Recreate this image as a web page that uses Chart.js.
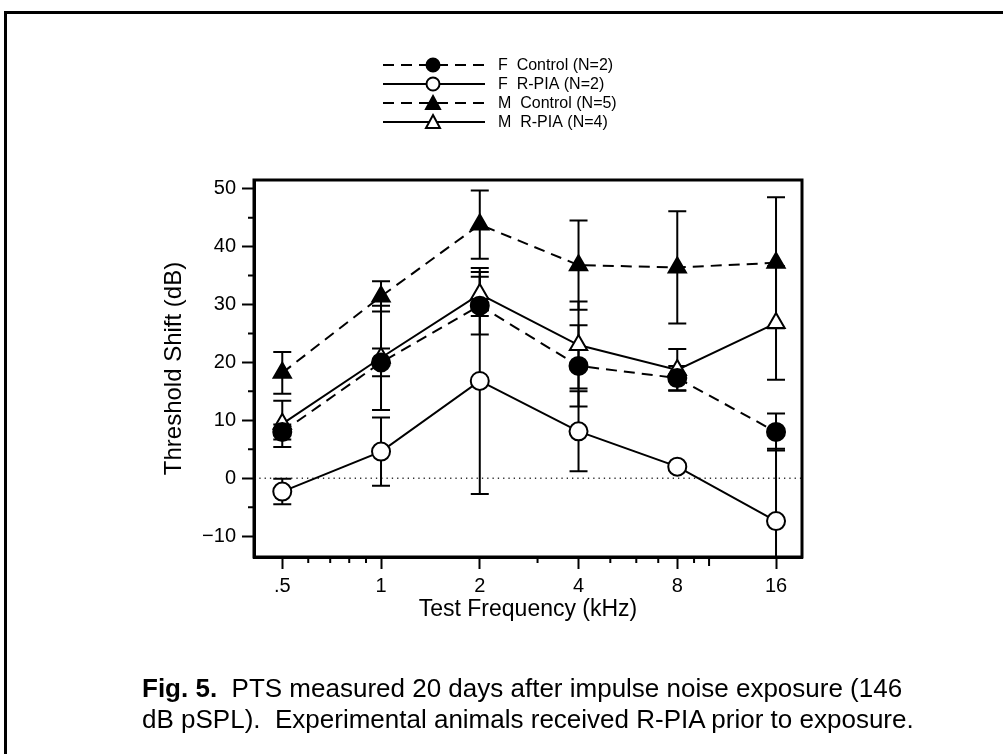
<!DOCTYPE html>
<html lang="en">
<head>
    <meta charset="UTF-8">
    <title>Fig. 5 - PTS after impulse noise</title>
    <script src="https://cdn.jsdelivr.net/npm/chart.js"></script>
    <style>
        html, body { margin: 0; padding: 0; background: #fff; }
        body { width: 1003px; height: 754px; position: relative; overflow: hidden; }
        .frame { position: absolute; left: 4px; top: 11px; right: -20px; bottom: -20px; border: 3px solid #000; }
        .chart-box { position: absolute; left: 0; top: 0; width: 1003px; height: 754px; }
        .caption { position: absolute; left: 142px; top: 673px; font-family: "Liberation Sans", Arial, sans-serif;
                   font-size: 26px; line-height: 31px; color: #000; white-space: nowrap; }
    </style>
</head>
<body>

<div class="frame"></div>

<!-- Grafica -->
<div class="chart-box">
    <canvas id="ptsChart" width="1003" height="754"></canvas>
</div>

<div class="caption"><b>Fig. 5.</b>&nbsp; PTS measured 20 days after impulse noise exposure (146<br>dB pSPL).&nbsp; Experimental animals received R-PIA prior to exposure.</div>

<script>
    // datos
    var freqs = [0.5, 1, 2, 4, 8, 16];
    var freqLabels = ['.5', '1', '2', '4', '8', '16'];

    var fControl = [8.0, 20.0, 29.8, 19.4, 17.3, 8.0];
    var fControlErr = [1.3, 2.4, 5.0, 7.0, 2.1, 3.2];
    var fRpia = [-2.3, 4.6, 16.8, 8.1, 2.0, -7.4];
    var fRpiaErr = [2.2, 5.9, 19.5, 6.9, 0, 12.5];
    var mControl = [18.2, 31.4, 43.8, 36.8, 36.4, 37.2];
    var mControlErr = [3.6, 2.6, 5.9, 7.7, 9.7, 11.3];
    var mRpia = [9.4, 20.8, 31.8, 23.0, 18.7, 26.8];
    var mRpiaErr = [4.0, 9.0, 3.8, 7.5, 3.6, 9.8];

    var yTicks = [-10, 0, 10, 20, 30, 40, 50];
    var yMinor = [-5, 5, 15, 25, 35, 45];
    var xMinor = [0.6, 0.7, 0.8, 0.9, 3, 5, 6, 7, 9, 10];

    function pts(vals) {
        return vals.map(function (v, i) { return { x: freqs[i], y: v }; });
    }

    function serie(label, vals, errs, dashed, shape, filled) {
        return {
            label: label,
            data: pts(vals),
            errors: errs,
            borderColor: '#000',
            borderWidth: 2,
            borderDash: dashed ? [11, 7] : [],
            pointStyle: shape,
            pointRadius: shape === 'circle' ? 9 : 10,
            pointBorderWidth: 2,
            pointBorderColor: '#000',
            pointBackgroundColor: filled ? '#000' : '#fff',
            tension: 0
        };
    }

    var FONT = '"Liberation Sans", Arial, sans-serif';

    // barras de error, linea punteada en 0, ticks menores y marco
    var extras = {
        id: 'extras',
        beforeDatasetsDraw: function (chart) {
            var ctx = chart.ctx, a = chart.chartArea;
            var xs = chart.scales.x, ys = chart.scales.y;
            ctx.save();
            ctx.beginPath();
            ctx.rect(a.left, a.top, a.right - a.left, a.bottom - a.top);
            ctx.clip();
            // linea en cero
            ctx.strokeStyle = '#333';
            ctx.lineWidth = 1.3;
            ctx.setLineDash([1.3, 4]);
            ctx.beginPath();
            ctx.moveTo(a.left, ys.getPixelForValue(0));
            ctx.lineTo(a.right, ys.getPixelForValue(0));
            ctx.stroke();
            ctx.setLineDash([]);
            // barras de error
            ctx.strokeStyle = '#000';
            ctx.lineWidth = 2;
            chart.data.datasets.forEach(function (ds) {
                ds.data.forEach(function (p, i) {
                    var e = ds.errors[i];
                    if (!e) return;
                    var px = xs.getPixelForValue(p.x);
                    var top = ys.getPixelForValue(p.y + e);
                    var bot = ys.getPixelForValue(p.y - e);
                    ctx.beginPath();
                    ctx.moveTo(px, top); ctx.lineTo(px, bot);
                    ctx.moveTo(px - 9, top); ctx.lineTo(px + 9, top);
                    ctx.moveTo(px - 9, bot); ctx.lineTo(px + 9, bot);
                    ctx.stroke();
                });
            });
            ctx.restore();
        },
        afterDraw: function (chart) {
            var ctx = chart.ctx, a = chart.chartArea;
            var xs = chart.scales.x, ys = chart.scales.y;
            ctx.save();
            ctx.strokeStyle = '#000';
            ctx.lineWidth = 3;
            ctx.strokeRect(a.left, a.top, a.right - a.left, a.bottom - a.top);
            ctx.lineWidth = 2;
            ctx.beginPath();
            yMinor.forEach(function (v) {
                var y = ys.getPixelForValue(v);
                ctx.moveTo(a.left - 6, y); ctx.lineTo(a.left, y);
            });
            xMinor.forEach(function (v) {
                var x = xs.getPixelForValue(v);
                ctx.moveTo(x, a.bottom); ctx.lineTo(x, a.bottom + (v === 10 ? 9 : 6));
            });
            ctx.stroke();

            // leyenda
            var lx = a.left + 129, ly = 65, step = 19;
            ctx.font = '16px ' + FONT;
            ctx.textBaseline = 'middle';
            ctx.fillStyle = '#000';
            chart.data.datasets.forEach(function (ds, i) {
                var y = ly + i * step;
                ctx.lineWidth = 2;
                ctx.setLineDash(ds.borderDash);
                ctx.beginPath();
                ctx.moveTo(lx, y); ctx.lineTo(lx + 102, y);
                ctx.stroke();
                ctx.setLineDash([]);
                ctx.fillStyle = ds.pointBackgroundColor;
                ctx.beginPath();
                if (ds.pointStyle === 'circle') {
                    ctx.arc(lx + 50, y, 6.5, 0, Math.PI * 2);
                } else {
                    ctx.moveTo(lx + 50, y - 7);
                    ctx.lineTo(lx + 57, y + 6);
                    ctx.lineTo(lx + 43, y + 6);
                    ctx.closePath();
                }
                ctx.fill();
                ctx.stroke();
                ctx.fillStyle = '#000';
                ctx.fillText(ds.label, lx + 115, y + 1);
            });
            ctx.restore();
        }
    };

    var ctx = document.getElementById('ptsChart').getContext('2d');
    new Chart(ctx, {
        type: 'line',
        data: {
            datasets: [
                serie('F  Control (N=2)', fControl, fControlErr, true, 'circle', true),
                serie('F  R-PIA (N=2)', fRpia, fRpiaErr, false, 'circle', false),
                serie('M  Control (N=5)', mControl, mControlErr, true, 'triangle', true),
                serie('M  R-PIA (N=4)', mRpia, mRpiaErr, false, 'triangle', false)
            ]
        },
        options: {
            responsive: false,
            animation: false,
            clip: false,
            layout: { padding: { left: 154, right: 201, top: 180, bottom: 117 } },
            plugins: { legend: { display: false }, tooltip: { enabled: false } },
            scales: {
                x: {
                    type: 'logarithmic',
                    min: 0.41,
                    max: 19.2,
                    afterBuildTicks: function (scale) {
                        scale.ticks = freqs.map(function (v) { return { value: v }; });
                    },
                    afterFit: function (scale) { scale.height = 80; },
                    ticks: {
                        autoSkip: false,
                        maxRotation: 0,
                        padding: 5,
                        color: '#000',
                        font: { family: FONT, size: 20 },
                        callback: function (v) { return freqLabels[freqs.indexOf(v)]; }
                    },
                    grid: { drawOnChartArea: false, tickLength: 12, tickWidth: 2, tickColor: '#000' },
                    border: { display: true, color: '#000', width: 3 },
                    title: { display: true, text: 'Test Frequency (kHz)', color: '#000',
                             font: { family: FONT, size: 23 }, padding: { bottom: 14 } }
                },
                y: {
                    min: -13.6,
                    max: 51.5,
                    afterBuildTicks: function (scale) {
                        scale.ticks = yTicks.map(function (v) { return { value: v }; });
                    },
                    afterFit: function (scale) { scale.width = 100; },
                    ticks: {
                        padding: 6,
                        color: '#000',
                        font: { family: FONT, size: 20 },
                        callback: function (v) { return v < 0 ? '\u2212' + Math.abs(v) : v; }
                    },
                    grid: { drawOnChartArea: false, tickLength: 12, tickWidth: 2, tickColor: '#000' },
                    border: { display: true, color: '#000', width: 3 },
                    title: { display: true, text: 'Threshold Shift (dB)', color: '#000',
                             font: { family: FONT, size: 24 }, padding: { top: 6 } }
                }
            }
        },
        plugins: [extras]
    });
</script>
</body>
</html>
